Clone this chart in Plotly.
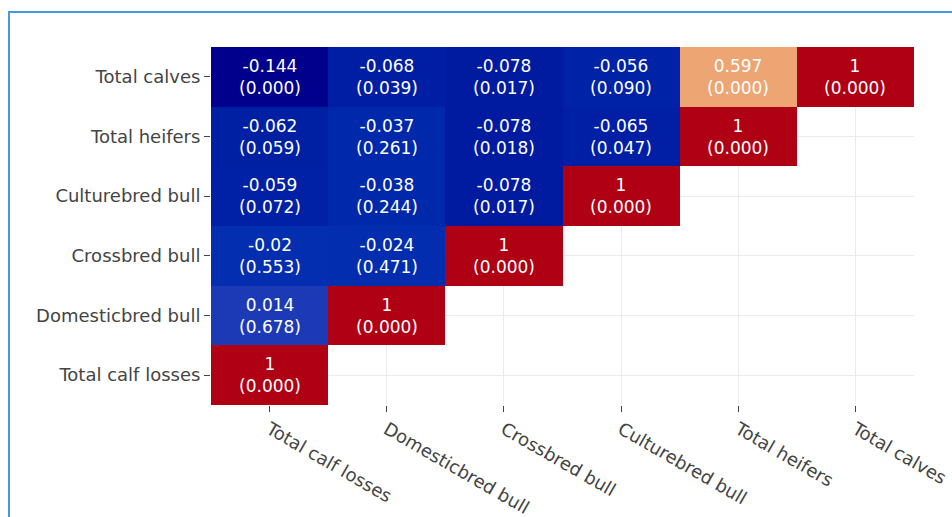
import plotly.graph_objects as go

# Variables, listed bottom-to-top on y and left-to-right on x
variables = ["Total calf losses", "Domesticbred bull", "Crossbred bull",
             "Culturebred bull", "Total heifers", "Total calves"]

# Lower-triangular correlation coefficients (row = y variable)
r_calf_losses = [1]
r_domesticbred = [0.014, 1]
r_crossbred = [-0.02, -0.024, 1]
r_culturebred = [-0.059, -0.038, -0.078, 1]
r_heifers = [-0.062, -0.037, -0.078, -0.065, 1]
r_calves = [-0.144, -0.068, -0.078, -0.056, 0.597, 1]

# Matching p-values
p_calf_losses = [0.000]
p_domesticbred = [0.678, 0.000]
p_crossbred = [0.553, 0.471, 0.000]
p_culturebred = [0.072, 0.244, 0.017, 0.000]
p_heifers = [0.059, 0.261, 0.018, 0.047, 0.000]
p_calves = [0.000, 0.039, 0.017, 0.090, 0.000, 0.000]

r_rows = [r_calf_losses, r_domesticbred, r_crossbred, r_culturebred, r_heifers, r_calves]
p_rows = [p_calf_losses, p_domesticbred, p_crossbred, p_culturebred, p_heifers, p_calves]

n = len(variables)
z = []
text = []
for r_row, p_row in zip(r_rows, p_rows):
    z.append(list(r_row) + [None] * (n - len(r_row)))
    text.append([f"{r}<br>({p:.3f})" for r, p in zip(r_row, p_row)] + [""] * (n - len(r_row)))

zmin, zmax = -0.144, 1.0


def pos(v):
    return (v - zmin) / (zmax - zmin)


colorscale = [
    [0.0, "rgb(0,0,140)"],
    [pos(-0.078), "rgb(0,26,160)"],
    [pos(-0.06), "rgb(0,33,165)"],
    [pos(-0.037), "rgb(0,40,170)"],
    [pos(-0.02), "rgb(4,46,176)"],
    [pos(0.014), "rgb(28,58,182)"],
    [pos(0.3), "rgb(200,180,190)"],
    [pos(0.597), "rgb(236,165,115)"],
    [1.0, "rgb(175,0,20)"],
]

fig = go.Figure(
    go.Heatmap(
        x=variables,
        y=variables,
        z=z,
        text=text,
        texttemplate="%{text}",
        textfont=dict(family="DejaVu Sans", size=17, color="white"),
        colorscale=colorscale,
        zmin=zmin,
        zmax=zmax,
        showscale=False,
        hoverongaps=False,
    )
)

axis_font = dict(family="DejaVu Sans", size=18, color="#444")

fig.update_xaxes(
    type="category",
    tickangle=30,
    ticks="outside",
    ticklen=6,
    tickcolor="#444",
    showgrid=True,
    gridcolor="#ebebeb",
    zeroline=False,
    showline=False,
    tickfont=axis_font,
    automargin=False,
)
fig.update_yaxes(
    type="category",
    ticks="outside",
    ticklen=6,
    tickcolor="#444",
    showgrid=True,
    gridcolor="#ebebeb",
    zeroline=False,
    showline=False,
    tickfont=axis_font,
    automargin=False,
)

# Frame lines around the figure (top and left), in paper units
L, R, T, B = 211, 38, 47, 112
W, H = 952, 517
pw, ph = W - L - R, H - T - B


def px_x(x):
    return (x - L) / pw


def px_y(y):
    return (H - B - y) / ph


frame = dict(color="rgb(70,150,225)", width=2)
fig.add_shape(type="line", xref="paper", yref="paper",
              x0=px_x(8), x1=px_x(952), y0=px_y(12), y1=px_y(12), line=frame)
fig.add_shape(type="line", xref="paper", yref="paper",
              x0=px_x(9), x1=px_x(9), y0=px_y(12), y1=px_y(517), line=frame)

fig.update_layout(
    width=W,
    height=H,
    margin=dict(l=L, r=R, t=T, b=B),
    paper_bgcolor="white",
    plot_bgcolor="white",
    font=dict(family="DejaVu Sans", color="#444"),
)

fig.write_html("out.html")
